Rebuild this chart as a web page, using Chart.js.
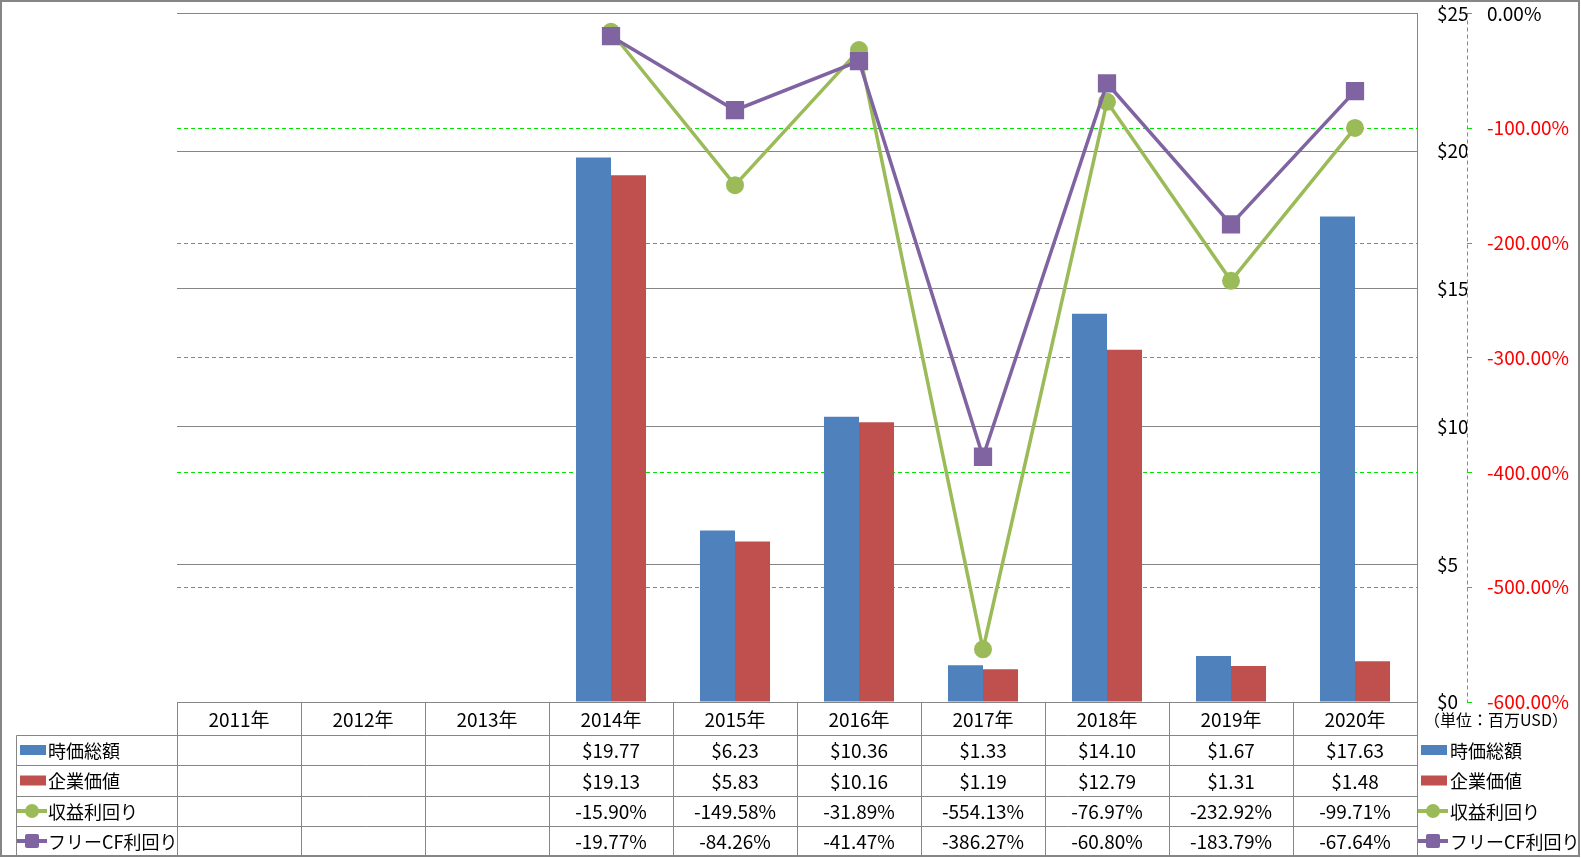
<!DOCTYPE html>
<html lang="ja">
<head>
<meta charset="utf-8">
<title>時価総額・企業価値・利回り</title>
<script src="https://cdn.jsdelivr.net/npm/chart.js@4.4.1/dist/chart.umd.min.js"></script>
<style>
  html, body { margin: 0; padding: 0; background: #fff; }
  #wrap { width: 1581px; height: 858px; }
</style>
</head>
<body>
<div id="wrap"><canvas id="chart" width="1581" height="858"></canvas></div>
<script>
// データ
var years = ["2011年", "2012年", "2013年", "2014年", "2015年", "2016年", "2017年", "2018年", "2019年", "2020年"];
var seriesNames = ["時価総額", "企業価値", "収益利回り", "フリーCF利回り"];
var marketCap = [null, null, null, 19.77, 6.23, 10.36, 1.33, 14.10, 1.67, 17.63];
var enterpriseValue = [null, null, null, 19.13, 5.83, 10.16, 1.19, 12.79, 1.31, 1.48];
var earningsYield = [null, null, null, -15.90, -149.58, -31.89, -554.13, -76.97, -232.92, -99.71];
var fcfYield = [null, null, null, -19.77, -84.26, -41.47, -386.27, -60.80, -183.79, -67.64];
// 目盛り
var dollarTicks = [0, 5, 10, 15, 20, 25];
var yieldTicks = [0, -100, -200, -300, -400, -500, -600];
var unitLabel = "（単位：百万USD）";

// 色
var BLUE = "#4f81bd", RED = "#c0504d", GREEN = "#9bbb59", PURPLE = "#8064a2";
var GRAY = "#868686", LIME = "#00e600";
var FONT = "'Noto Sans CJK JP', 'Noto Sans', sans-serif";

Chart.defaults.font.family = FONT;
Chart.defaults.font.size = 19;
Chart.defaults.color = "#000";

function fmtDollar(v) { return "$" + v.toFixed(2); }
function fmtPct(v) { return v.toFixed(2) + "%"; }

var tableRows = [
    { data: marketCap, fmt: fmtDollar },
    { data: enterpriseValue, fmt: fmtDollar },
    { data: earningsYield, fmt: fmtPct },
    { data: fcfYield, fmt: fmtPct }
];

// 凡例マーカー
function drawKey(ctx, i, x, cy) {
    ctx.save();
    if (i === 0 || i === 1) {
        ctx.fillStyle = i === 0 ? BLUE : RED;
        ctx.fillRect(x + 3, cy - 5, 26, 10);
    } else {
        var c = i === 2 ? GREEN : PURPLE;
        ctx.strokeStyle = c;
        ctx.fillStyle = c;
        ctx.lineWidth = 4;
        ctx.beginPath();
        ctx.moveTo(x, cy);
        ctx.lineTo(x + 30, cy);
        ctx.stroke();
        if (i === 2) {
            ctx.beginPath();
            ctx.arc(x + 15, cy, 7, 0, Math.PI * 2);
            ctx.fill();
        } else {
            ctx.beginPath();
            ctx.roundRect(x + 8, cy - 7, 14, 14, 2);
            ctx.fill();
        }
    }
    ctx.restore();
}

// データテーブル・枠線
var tablePlugin = {
    id: "dataTable",
    afterDraw: function (chart) {
        var ctx = chart.ctx;
        var a = chart.chartArea;
        var n = years.length;
        var colW = (a.right - a.left) / n;
        var rowLines = [a.bottom, 735, 765, 796, 826, 856];
        var px = function (v) { return Math.round(v) + 0.5; };

        ctx.save();
        ctx.strokeStyle = GRAY;
        ctx.lineWidth = 1;

        // 横線
        ctx.beginPath();
        ctx.moveTo(px(a.left), px(rowLines[0]));
        ctx.lineTo(px(a.right), px(rowLines[0]));
        for (var r = 1; r < rowLines.length; r++) {
            ctx.moveTo(16.5, px(rowLines[r]));
            ctx.lineTo(px(a.right), px(rowLines[r]));
        }
        // 縦線
        for (var c = 0; c <= n; c++) {
            var xx = px(a.left + c * colW);
            ctx.moveTo(xx, px(rowLines[0]));
            ctx.lineTo(xx, px(rowLines[5]));
        }
        ctx.moveTo(16.5, px(rowLines[1]));
        ctx.lineTo(16.5, px(rowLines[5]));
        ctx.stroke();

        // 第2軸の破線
        var y2 = chart.scales.y2;
        ctx.strokeStyle = LIME;
        ctx.setLineDash([4, 3]);
        ctx.beginPath();
        ctx.moveTo(px(y2.left), a.top);
        ctx.lineTo(px(y2.left), a.bottom);
        ctx.stroke();
        ctx.setLineDash([]);

        // 文字
        ctx.fillStyle = "#000";
        ctx.font = "19px " + FONT;
        ctx.textBaseline = "middle";
        ctx.textAlign = "center";
        var xs = chart.scales.x;
        for (var k = 0; k < n; k++) {
            var cx = xs.getPixelForValue(k);
            ctx.fillText(years[k], cx, (rowLines[0] + rowLines[1]) / 2 + 1);
            for (var j = 0; j < tableRows.length; j++) {
                var v = tableRows[j].data[k];
                if (v === null) continue;
                ctx.fillText(tableRows[j].fmt(v), cx, (rowLines[j + 1] + rowLines[j + 2]) / 2 + 1);
            }
        }

        // 凡例（左・右）
        ctx.textAlign = "left";
        ctx.font = "18px " + FONT;
        for (var s = 0; s < seriesNames.length; s++) {
            var cy = (rowLines[s + 1] + rowLines[s + 2]) / 2;
            drawKey(ctx, s, 17, cy);
            ctx.fillText(seriesNames[s], 48, cy + 1);
            drawKey(ctx, s, 1418, cy);
            ctx.fillText(seriesNames[s], 1450, cy + 1);
        }

        // 単位
        ctx.font = "16px " + FONT;
        ctx.fillText(unitLabel, 1424, 720);

        // 外枠
        ctx.strokeStyle = GRAY;
        ctx.lineWidth = 2;
        ctx.strokeRect(1, 1, 1578, 855);
        ctx.restore();
    }
};

function fixPad(w) {
    return function (axis) {
        axis.width = w;
        axis.paddingTop = 0;
        axis.paddingBottom = 0;
    };
}

var ctx = document.getElementById("chart");
var myChart = new Chart(ctx, {
    type: "bar",
    data: {
        labels: years,
        datasets: [
            {
                label: seriesNames[0],
                data: marketCap,
                backgroundColor: BLUE,
                yAxisID: "y",
                order: 2
            },
            {
                label: seriesNames[1],
                data: enterpriseValue,
                backgroundColor: RED,
                yAxisID: "y",
                order: 3
            },
            {
                type: "line",
                label: seriesNames[2],
                data: earningsYield,
                borderColor: GREEN,
                backgroundColor: GREEN,
                borderWidth: 3.5,
                pointStyle: "circle",
                pointRadius: 8,
                pointBorderWidth: 2,
                lineTension: 0,
                yAxisID: "y2",
                order: 1
            },
            {
                type: "line",
                label: seriesNames[3],
                data: fcfYield,
                borderColor: PURPLE,
                backgroundColor: PURPLE,
                borderWidth: 3.5,
                pointStyle: "rect",
                pointRadius: 11.5,
                pointBorderWidth: 2,
                lineTension: 0,
                yAxisID: "y2",
                order: 0
            }
        ]
    },
    options: {
        responsive: false,
        animation: false,
        devicePixelRatio: 1,
        layout: {
            padding: { left: 177, top: 13, bottom: 156, right: 0 }
        },
        categoryPercentage: 0.565,
        barPercentage: 1,
        plugins: {
            legend: { display: false },
            tooltip: { enabled: false }
        },
        scales: {
            x: {
                display: false,
                offset: true
            },
            y: {
                position: "right",
                min: 0,
                max: 25,
                afterBuildTicks: function (axis) {
                    axis.ticks = dollarTicks.map(function (v) { return { value: v }; });
                },
                afterFit: fixPad(50),
                grid: {
                    color: GRAY,
                    lineWidth: 1,
                    drawTicks: false
                },
                border: { display: true, color: GRAY, width: 1 },
                ticks: {
                    padding: 20,
                    crossAlign: "near",
                    color: "#000",
                    font: { size: 19 },
                    callback: function (v) { return "$" + v; }
                }
            },
            y2: {
                position: "right",
                min: -600,
                max: 0,
                afterBuildTicks: function (axis) {
                    axis.ticks = yieldTicks.map(function (v) { return { value: v }; });
                },
                afterFit: fixPad(114),
                grid: {
                    drawOnChartArea: true,
                    color: function (c) {
                        var v = c.tick ? c.tick.value : null;
                        return (v === 0 || v === -600) ? "rgba(0,0,0,0)" : LIME;
                    },
                    tickColor: LIME,
                    tickLength: 5,
                    lineWidth: 1
                },
                border: { display: false, dash: [4, 3] },
                ticks: {
                    padding: 15,
                    crossAlign: "near",
                    font: { size: 19 },
                    color: function (c) { return c.tick.value === 0 ? "#000" : "#ff0000"; },
                    callback: function (v) { return v.toFixed(2) + "%"; }
                }
            }
        }
    },
    plugins: [tablePlugin]
});
</script>
</body>
</html>
